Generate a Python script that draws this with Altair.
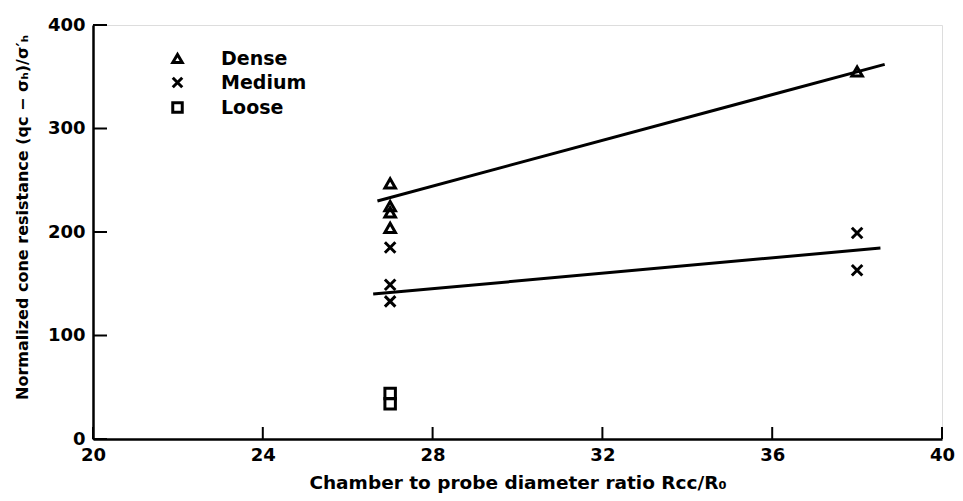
import altair as alt
import pandas as pd

# Data
dense_x = [27, 27, 27, 27, 38]
dense_y = [247, 225, 219, 204, 355]
medium_x = [27, 27, 27, 38, 38]
medium_y = [185, 149, 133, 199, 163]
loose_x = [27, 27]
loose_y = [44, 34]

fit_dense_x = [26.7, 38.65]
fit_dense_y = [230, 362]
fit_medium_x = [26.6, 38.55]
fit_medium_y = [140, 184.5]

x_ticks = [20, 24, 28, 32, 36, 40]
y_ticks = [0, 100, 200, 300, 400]

pts = pd.DataFrame(
    {"x": dense_x + medium_x + loose_x,
     "y": dense_y + medium_y + loose_y,
     "density": ["Dense"] * len(dense_x) + ["Medium"] * len(medium_x) + ["Loose"] * len(loose_x)}
)
fits = pd.DataFrame(
    {"x": fit_dense_x + fit_medium_x,
     "y": fit_dense_y + fit_medium_y,
     "g": ["Dense"] * 2 + ["Medium"] * 2}
)

W, H = 849, 414
FONT = "DejaVu Sans"

xscale = alt.Scale(domain=[20, 40], nice=False, zero=False)
yscale = alt.Scale(domain=[0, 400], nice=False)

xaxis = alt.Axis(values=x_ticks, ticks=False, grid=False, domainColor="black", domainWidth=2.5,
                 labelFontSize=18, labelColor="black", labelPadding=7, labelFont=FONT,
                 labelFontWeight="bold", labelFlush=False, labelOverlap=False,
                 title="Chamber to probe diameter ratio Rcc/R₀", titleFontSize=18.5,
                 titleFontWeight="bold", titleFont=FONT, titleColor="black", titlePadding=9)
yaxis = alt.Axis(values=y_ticks, ticks=False, grid=False, domainColor="black", domainWidth=2.5,
                 labelFontSize=18, labelColor="black", labelPadding=8, labelFont=FONT,
                 labelFontWeight="bold", labelFlush=False, labelOverlap=False,
                 title="Normalized cone resistance (qc − σₕ)/σ′ₕ", titleFontSize=16,
                 titleFontWeight="bold", titleFont=FONT, titleColor="black",
                 titleX=-71, titleY=192, titleBaseline="middle", titleAngle=270)

xpath = "M-1,-1L1,1M-1,1L1,-1"

points = alt.Chart(pts).mark_point(filled=False, strokeWidth=3, color="black", opacity=1).encode(
    x=alt.X("x:Q", scale=xscale, axis=xaxis),
    y=alt.Y("y:Q", scale=yscale, axis=yaxis),
    shape=alt.Shape("density:N",
                    scale=alt.Scale(domain=["Dense", "Medium", "Loose"],
                                    range=["triangle-up", xpath, "square"]),
                    legend=alt.Legend(title=None, orient="none", legendX=75, legendY=24,
                                      labelFontSize=19, labelFont=FONT, labelColor="black",
                                      labelFontWeight="bold",
                                      labelOffset=34, rowPadding=2, symbolSize=90,
                                      symbolStrokeColor="black", symbolStrokeWidth=3,
                                      symbolFillColor="transparent")),
    size=alt.value(110),
)

lines = alt.Chart(fits).mark_line(color="black", strokeWidth=3).encode(
    x=alt.X("x:Q", scale=xscale),
    y=alt.Y("y:Q", scale=yscale),
    detail="g:N",
)

xt = alt.Chart(pd.DataFrame({"v": x_ticks})).mark_rule(color="black", strokeWidth=2).encode(
    x=alt.X("v:Q", scale=xscale),
    y=alt.value(H),
    y2=alt.value(H - 12),
)
yt = alt.Chart(pd.DataFrame({"v": y_ticks})).mark_rule(color="black", strokeWidth=2).encode(
    y=alt.Y("v:Q", scale=yscale),
    x=alt.value(0),
    x2=alt.value(14),
)

chart = alt.layer(lines, points, xt, yt).properties(
    width=W, height=H,
    autosize=alt.AutoSizeParams(type="none"),
    padding={"left": 85, "top": 17, "right": 13, "bottom": 54},
).configure_view(stroke=None).configure(background="white")

chart.save("out.html", embed_options={"renderer": "svg", "actions": False})
